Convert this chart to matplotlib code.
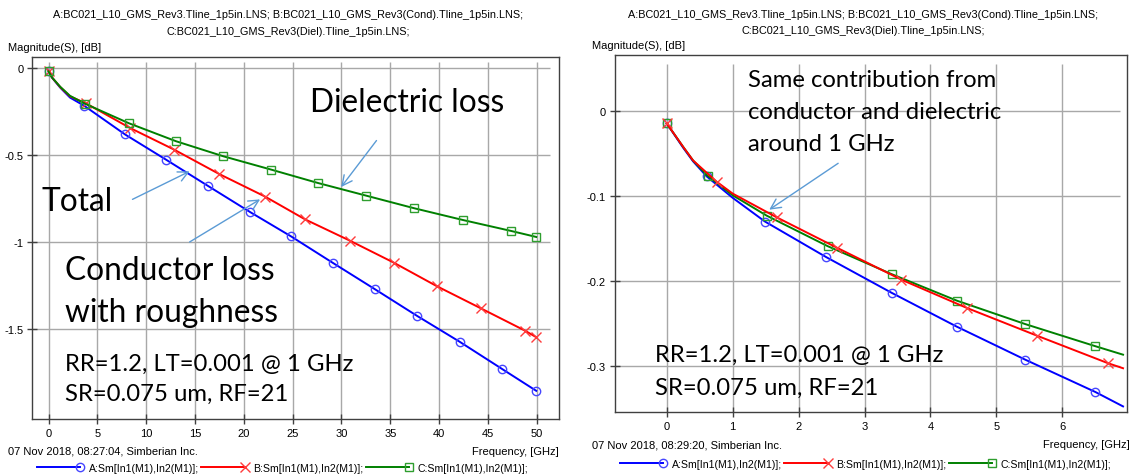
import matplotlib
matplotlib.use("Agg")
import matplotlib.pyplot as plt
from matplotlib.lines import Line2D
from matplotlib.legend_handler import HandlerLine2D

plt.rcParams["axes.unicode_minus"] = False
SMALL = ["Liberation Sans", "DejaVu Sans"]
BIG = ["Lato", "DejaVu Sans"]

# ---- insertion loss, 0-50 GHz sweep ----
freq_a_wide = [0, 0.35, 1.2, 2.2, 3.68, 7.84, 12.04, 16.34, 20.65, 24.85, 29.15, 33.45, 37.76, 42.16, 46.41, 49.95]
loss_a_wide = [-0.016, -0.055, -0.113, -0.170, -0.218, -0.382, -0.527, -0.678, -0.828, -0.968, -1.121, -1.272, -1.425, -1.575, -1.728, -1.855]
freq_b_wide = [0, 0.35, 1.2, 2.2, 3.86, 8.36, 12.86, 17.47, 22.18, 26.28, 30.89, 35.34, 39.74, 44.31, 48.82, 49.92]
loss_b_wide = [-0.016, -0.054, -0.110, -0.163, -0.204, -0.345, -0.469, -0.609, -0.739, -0.870, -0.993, -1.118, -1.253, -1.382, -1.510, -1.546]
freq_c_wide = [0, 0.35, 1.2, 2.2, 3.72, 8.25, 13.06, 17.88, 22.8, 27.6, 32.49, 37.45, 42.47, 47.34, 49.95]
loss_c_wide = [-0.020, -0.054, -0.108, -0.160, -0.205, -0.318, -0.421, -0.507, -0.584, -0.661, -0.733, -0.806, -0.874, -0.936, -0.971]
marks_a_wide = [0] + list(range(4, 16))
marks_b_wide = [0] + list(range(4, 16))
marks_c_wide = [0] + list(range(4, 15))

# ---- insertion loss, 0-7 GHz sweep ----
freq_a_low = [0, 0.25, 0.4, 0.606, 1.0, 1.49, 2.42, 3.41, 4.40, 5.44, 6.50, 6.92]
loss_a_low = [-0.0142, -0.043, -0.059, -0.0767, -0.102, -0.130, -0.172, -0.214, -0.254, -0.293, -0.331, -0.348]
freq_b_low = [0, 0.25, 0.4, 0.757, 1.0, 1.667, 2.585, 3.56, 4.555, 5.615, 6.69, 6.92]
loss_b_low = [-0.0142, -0.042, -0.058, -0.083, -0.097, -0.125, -0.161, -0.1986, -0.232, -0.2646, -0.297, -0.303]
freq_c_low = [0, 0.25, 0.4, 0.62, 1.0, 1.515, 2.44, 3.41, 4.40, 5.44, 6.50, 6.92]
loss_c_low = [-0.0142, -0.042, -0.058, -0.076, -0.099, -0.123, -0.159, -0.192, -0.2233, -0.251, -0.277, -0.287]
marks_low = [0, 3, 5, 6, 7, 8, 9, 10]

xticks_wide = [0, 5, 10, 15, 20, 25, 30, 35, 40, 45, 50]
yticks_wide = [0, -0.5, -1, -1.5]
ylabels_wide = ["0", "-0.5", "-1", "-1.5"]
xticks_low = [0, 1, 2, 3, 4, 5, 6]
yticks_low = [0, -0.1, -0.2, -0.3]
ylabels_low = ["0", "-0.1", "-0.2", "-0.3"]

files_1 = "A:BC021_L10_GMS_Rev3.Tline_1p5in.LNS; B:BC021_L10_GMS_Rev3(Cond).Tline_1p5in.LNS;"
files_2 = "C:BC021_L10_GMS_Rev3(Diel).Tline_1p5in.LNS;"
legend_labels = ["A:Sm[In1(M1),In2(M1)];", "B:Sm[In1(M1),In2(M1)];", "C:Sm[In1(M1),In2(M1)];"]

BLUE, RED, GREEN = "#0000FF", "#FF0000", "#008000"
BLUE_M, RED_M, GREEN_M = "#4646FF", "#FF3C3C", "#2E9E2E"
ARROW = "#5B9BD5"
GRID = "#A8A8A8"
BIG_SIZE = 22.8
MID_SIZE = 17.2

W, H = 1135, 477
fig = plt.figure(figsize=(W / 100, H / 100), dpi=100)


def fx(x):
    return x / W


def fy(y):
    return 1 - y / H


def make_axes(l, t, r, b, xlim, ylim, xticks, yticks, ylabels, grid_right, grid_top):
    ax = fig.add_axes([fx(l), fy(b), (r - l) / W, (b - t) / H])
    ax.set_xlim(*xlim)
    ax.set_ylim(*ylim)
    ax.vlines(xticks, ylim[0], grid_top, color=GRID, lw=1, zorder=0)
    ax.hlines(yticks, xlim[0], grid_right, color=GRID, lw=1, zorder=0)
    ax.set_xticks(xticks)
    ax.set_xticklabels([str(t) for t in xticks])
    ax.set_yticks(yticks)
    ax.set_yticklabels(ylabels)
    ax.tick_params(direction="inout", length=7, width=1, color="#404040",
                   labelsize=8, pad=3)
    for lab in ax.get_xticklabels() + ax.get_yticklabels():
        lab.set_family(SMALL)
    for s in ax.spines.values():
        s.set_color("#404040")
        s.set_linewidth(1)
    return ax


def trace(ax, f, v, marks, color, mcolor, marker, ms):
    ax.plot(f, v, color=color, lw=1.4, marker=marker, markevery=marks,
            mfc="none", mec=mcolor, mew=1.0, ms=ms, zorder=3)


class EndMarker(HandlerLine2D):
    # draw the legend marker at the right end of the sample line
    def create_artists(self, *args, **kwargs):
        arts = super().create_artists(*args, **kwargs)
        for a in arts:
            n = len(a.get_xdata())
            a.set_markevery([n - 1])
        return arts


handles = [
    Line2D([], [], color=BLUE, lw=1.4, marker="o", mfc="none", mec=BLUE_M, ms=6),
    Line2D([], [], color=RED, lw=1.4, marker="x", mec=RED_M, ms=6.5),
    Line2D([], [], color=GREEN, lw=1.4, marker="s", mfc="none", mec=GREEN_M, ms=5.5),
]
legend_kw = dict(loc="center left", ncol=3, frameon=False,
                 prop={"family": SMALL, "size": 7.6},
                 handlelength=4.1, handletextpad=0.8, columnspacing=0.25,
                 borderpad=0, borderaxespad=0, handler_map={Line2D: EndMarker()})

# ---------------- left: 0-50 GHz ----------------
ax1 = make_axes(32.4, 58, 558.5, 420, (-1.649, 52.23), (-2.017, 0.063),
                xticks_wide, yticks_wide, ylabels_wide, 51.4, 0.034)
trace(ax1, freq_a_wide, loss_a_wide, marks_a_wide, BLUE, BLUE_M, "o", 6)
trace(ax1, freq_b_wide, loss_b_wide, marks_b_wide, RED, RED_M, "x", 6.5)
trace(ax1, freq_c_wide, loss_c_wide, marks_c_wide, GREEN, GREEN_M, "s", 5.5)

ax1.text(26.74, -0.245, "Dielectric loss", family=BIG, fontsize=BIG_SIZE, va="baseline")
ax1.text(-0.69, -0.816, "Total", family=BIG, fontsize=BIG_SIZE, va="baseline")
ax1.text(1.69, -1.213, "Conductor loss", family=BIG, fontsize=BIG_SIZE, va="baseline")
ax1.text(1.69, -1.454, "with roughness", family=BIG, fontsize=BIG_SIZE, va="baseline")
ax1.text(1.69, -1.736, "RR=1.2, LT=0.001 @ 1 GHz", family=BIG, fontsize=MID_SIZE, va="baseline")
ax1.text(1.69, -1.908, "SR=0.075 um, RF=21", family=BIG, fontsize=MID_SIZE, va="baseline")

arrow = dict(arrowstyle="->", color=ARROW, lw=1, mutation_scale=18, shrinkA=0, shrinkB=0)
ax1.annotate("", xy=(14.45, -0.594), xytext=(8.60, -0.755), arrowprops=arrow)
ax1.annotate("", xy=(21.67, -0.755), xytext=(14.45, -1.0), arrowprops=arrow)
ax1.annotate("", xy=(29.97, -0.684), xytext=(33.59, -0.417), arrowprops=arrow)

fig.text(fx(288), fy(15), files_1, family=SMALL, fontsize=7.8, ha="center", va="center")
fig.text(fx(288), fy(32), files_2, family=SMALL, fontsize=7.8, ha="center", va="center")
fig.text(fx(8), fy(48), "Magnitude(S), [dB]", family=SMALL, fontsize=8, va="center")
fig.text(fx(8), fy(452), "07 Nov 2018, 08:27:04, Simberian Inc.", family=SMALL, fontsize=8, va="center")
fig.text(fx(559), fy(452), "Frequency, [GHz]", family=SMALL, fontsize=8, ha="right", va="center")
fig.legend(handles, legend_labels, bbox_to_anchor=(fx(37), fy(469)), **legend_kw)

# ---------------- right: 0-7 GHz ----------------
ax2 = make_axes(615, 56, 1127, 413, (-0.784, 6.98), (-0.3546, 0.0664),
                xticks_low, yticks_low, ylabels_low, 6.87, 0.0558)
trace(ax2, freq_a_low, loss_a_low, marks_low, BLUE, BLUE_M, "o", 6)
trace(ax2, freq_c_low, loss_c_low, marks_low, GREEN, GREEN_M, "s", 5.5)
trace(ax2, freq_b_low, loss_b_low, marks_low, RED, RED_M, "x", 6.5)

ax2.text(1.232, 0.0302, "Same contribution from", family=BIG, fontsize=MID_SIZE, va="baseline")
ax2.text(1.232, -0.0083, "conductor and dielectric", family=BIG, fontsize=MID_SIZE, va="baseline")
ax2.text(1.232, -0.0453, "around 1 GHz", family=BIG, fontsize=MID_SIZE, va="baseline")
ax2.text(-0.177, -0.294, "RR=1.2, LT=0.001 @ 1 GHz", family=BIG, fontsize=MID_SIZE, va="baseline")
ax2.text(-0.177, -0.3334, "SR=0.075 um, RF=21", family=BIG, fontsize=MID_SIZE, va="baseline")
ax2.annotate("", xy=(1.555, -0.116), xytext=(2.60, -0.0613), arrowprops=arrow)

fig.text(fx(863), fy(15), files_1, family=SMALL, fontsize=7.8, ha="center", va="center")
fig.text(fx(863), fy(31), files_2, family=SMALL, fontsize=7.8, ha="center", va="center")
fig.text(fx(592), fy(46), "Magnitude(S), [dB]", family=SMALL, fontsize=8, va="center")
fig.text(fx(592), fy(445), "07 Nov 2018, 08:29:20, Simberian Inc.", family=SMALL, fontsize=8, va="center")
fig.text(fx(1130), fy(445), "Frequency, [GHz]", family=SMALL, fontsize=8, ha="right", va="center")
fig.legend(handles, legend_labels, bbox_to_anchor=(fx(620), fy(465)), **legend_kw)

fig.savefig("out.png", dpi=100)
